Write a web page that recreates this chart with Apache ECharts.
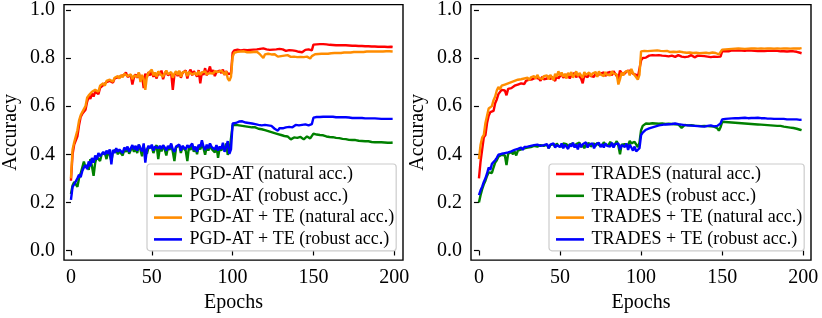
<!DOCTYPE html>
<html>
<head>
<meta charset="utf-8">
<script src="https://cdn.jsdelivr.net/npm/echarts@6/dist/echarts.min.js"></script>
<style>html,body{margin:0;padding:0;background:#fff}#c{width:822px;height:318px}</style>
</head>
<body>
<div id="c"></div>
<script>
const xTicks = [0, 50, 100, 150, 200];
const yTicks = [0.0, 0.2, 0.4, 0.6, 0.8, 1.0];
const leftNames = ['PGD-AT (natural acc.)', 'PGD-AT (robust acc.)', 'PGD-AT + TE (natural acc.)', 'PGD-AT + TE (robust acc.)'];
const rightNames = ['TRADES (natural acc.)', 'TRADES (robust acc.)', 'TRADES + TE (natural acc.)', 'TRADES + TE (robust acc.)'];

const pgdNatural = [
0.290,0.400,0.440,0.432,0.475,0.520,0.555,0.568,0.572,0.585,
0.618,0.640,0.630,0.652,0.640,0.660,0.662,0.650,0.676,0.680,
0.688,0.682,0.700,0.692,0.705,0.712,0.698,0.715,0.708,0.720,
0.712,0.725,0.718,0.730,0.740,0.722,0.715,0.728,0.690,0.720,
0.732,0.718,0.738,0.710,0.725,0.675,0.735,0.720,0.742,0.728,
0.745,0.722,0.735,0.715,0.740,0.730,0.748,0.712,0.735,0.745,
0.728,0.720,0.738,0.668,0.730,0.742,0.725,0.745,0.718,0.738,
0.732,0.748,0.715,0.740,0.752,0.728,0.745,0.735,0.722,0.750,
0.695,0.742,0.730,0.758,0.728,0.745,0.765,0.735,0.750,0.725,
0.742,0.735,0.748,0.738,0.752,0.730,0.745,0.735,0.742,0.735,
0.822,0.832,0.830,0.835,0.838,0.832,0.836,0.834,0.838,0.833,
0.836,0.834,0.838,0.835,0.840,0.836,0.834,0.838,0.835,0.840,
0.842,0.836,0.838,0.834,0.837,0.835,0.832,0.836,0.834,0.838,
0.832,0.836,0.834,0.830,0.835,0.833,0.836,0.832,0.834,0.830,
0.833,0.826,0.828,0.824,0.830,0.834,0.832,0.836,0.830,0.832,
0.856,0.858,0.857,0.859,0.858,0.857,0.858,0.856,0.857,0.856,
0.855,0.856,0.854,0.855,0.853,0.854,0.853,0.852,0.853,0.852,
0.853,0.851,0.852,0.850,0.851,0.850,0.851,0.849,0.850,0.849,
0.850,0.848,0.849,0.848,0.849,0.847,0.848,0.847,0.848,0.846,
0.847,0.846,0.847,0.846,0.847,0.845,0.846,0.846,0.847,0.846];

const pgdRobust = [
0.235,0.270,0.285,0.275,0.265,0.300,0.320,0.345,0.370,0.345,
0.355,0.335,0.380,0.350,0.310,0.365,0.390,0.395,0.372,0.400,
0.395,0.405,0.380,0.410,0.398,0.372,0.412,0.405,0.420,0.400,
0.412,0.405,0.395,0.420,0.410,0.425,0.402,0.418,0.430,0.410,
0.425,0.405,0.440,0.418,0.392,0.432,0.412,0.402,0.428,0.420,
0.432,0.405,0.425,0.438,0.380,0.428,0.412,0.435,0.420,0.395,
0.430,0.418,0.440,0.410,0.372,0.428,0.420,0.438,0.405,0.430,
0.422,0.415,0.372,0.432,0.418,0.440,0.410,0.428,0.400,0.435,
0.420,0.440,0.425,0.398,0.432,0.415,0.440,0.422,0.430,0.408,
0.435,0.385,0.428,0.415,0.432,0.420,0.445,0.398,0.412,0.405,
0.520,0.525,0.522,0.524,0.520,0.522,0.518,0.520,0.516,0.518,
0.514,0.516,0.512,0.510,0.512,0.508,0.506,0.508,0.504,0.502,
0.500,0.498,0.496,0.494,0.492,0.490,0.488,0.486,0.484,0.486,
0.480,0.482,0.476,0.478,0.474,0.470,0.462,0.455,0.470,0.475,
0.468,0.460,0.472,0.476,0.462,0.468,0.474,0.470,0.466,0.472,
0.486,0.484,0.482,0.483,0.480,0.478,0.479,0.476,0.474,0.475,
0.472,0.470,0.471,0.469,0.468,0.466,0.467,0.465,0.464,0.465,
0.463,0.462,0.460,0.461,0.459,0.458,0.459,0.457,0.456,0.457,
0.455,0.456,0.454,0.453,0.454,0.452,0.451,0.452,0.450,0.451,
0.450,0.449,0.450,0.448,0.449,0.447,0.448,0.446,0.448,0.449];

const pgdTeNatural = [
0.300,0.420,0.450,0.455,0.500,0.540,0.562,0.575,0.580,0.600,
0.635,0.645,0.640,0.660,0.655,0.668,0.672,0.660,0.685,0.690,
0.695,0.685,0.705,0.698,0.710,0.715,0.702,0.718,0.712,0.725,
0.715,0.730,0.720,0.735,0.742,0.725,0.722,0.732,0.712,0.728,
0.735,0.722,0.740,0.700,0.730,0.712,0.668,0.725,0.738,0.730,
0.752,0.728,0.740,0.722,0.745,0.735,0.740,0.722,0.738,0.748,
0.732,0.725,0.742,0.718,0.735,0.745,0.730,0.748,0.722,0.740,
0.735,0.745,0.725,0.742,0.748,0.732,0.740,0.738,0.728,0.745,
0.730,0.740,0.735,0.745,0.732,0.740,0.738,0.742,0.735,0.745,
0.738,0.742,0.735,0.748,0.740,0.732,0.745,0.715,0.705,0.722,
0.805,0.822,0.825,0.826,0.824,0.827,0.825,0.828,0.826,0.824,
0.826,0.824,0.827,0.825,0.822,0.826,0.820,0.815,0.808,0.800,
0.815,0.812,0.818,0.810,0.815,0.808,0.816,0.812,0.806,0.812,
0.808,0.814,0.810,0.806,0.812,0.808,0.805,0.810,0.806,0.808,
0.804,0.808,0.805,0.807,0.804,0.808,0.806,0.800,0.798,0.808,
0.815,0.816,0.815,0.817,0.816,0.818,0.817,0.818,0.819,0.818,
0.819,0.820,0.819,0.821,0.820,0.821,0.822,0.821,0.822,0.823,
0.822,0.823,0.824,0.823,0.824,0.825,0.824,0.825,0.826,0.825,
0.826,0.825,0.826,0.827,0.826,0.827,0.826,0.827,0.828,0.827,
0.828,0.827,0.828,0.827,0.828,0.828,0.827,0.828,0.828,0.827];

const pgdTeRobust = [
0.210,0.265,0.275,0.280,0.300,0.315,0.305,0.330,0.345,0.355,
0.338,0.370,0.350,0.385,0.365,0.395,0.378,0.405,0.392,0.400,
0.410,0.398,0.415,0.402,0.420,0.358,0.418,0.405,0.425,0.410,
0.420,0.412,0.405,0.428,0.418,0.432,0.410,0.425,0.438,0.420,
0.435,0.415,0.440,0.425,0.412,0.445,0.365,0.420,0.435,0.425,
0.440,0.415,0.432,0.440,0.425,0.435,0.422,0.438,0.428,0.415,
0.435,0.425,0.445,0.420,0.410,0.432,0.428,0.440,0.415,0.435,
0.430,0.420,0.438,0.428,0.425,0.445,0.418,0.432,0.410,0.440,
0.430,0.458,0.432,0.418,0.440,0.425,0.445,0.430,0.438,0.420,
0.438,0.415,0.432,0.422,0.448,0.410,0.430,0.455,0.402,0.420,
0.528,0.532,0.530,0.534,0.536,0.533,0.537,0.535,0.532,0.534,
0.530,0.526,0.528,0.522,0.525,0.518,0.522,0.515,0.520,0.518,
0.522,0.516,0.520,0.514,0.518,0.510,0.506,0.500,0.498,0.508,
0.512,0.508,0.515,0.512,0.518,0.514,0.520,0.512,0.518,0.522,
0.515,0.520,0.516,0.522,0.518,0.524,0.516,0.520,0.512,0.525,
0.552,0.554,0.555,0.556,0.555,0.557,0.556,0.555,0.556,0.555,
0.556,0.555,0.556,0.555,0.554,0.555,0.554,0.553,0.554,0.553,
0.554,0.552,0.553,0.552,0.551,0.552,0.551,0.550,0.551,0.550,
0.551,0.550,0.549,0.550,0.549,0.548,0.549,0.548,0.549,0.548,
0.548,0.549,0.547,0.548,0.547,0.548,0.547,0.546,0.547,0.547];

const tradesNatural = [
0.300,0.370,0.420,0.470,0.480,0.530,0.560,0.575,0.582,0.580,
0.612,0.628,0.650,0.655,0.668,0.660,0.665,0.645,0.672,0.668,
0.675,0.670,0.685,0.678,0.690,0.685,0.695,0.700,0.692,0.705,
0.700,0.710,0.705,0.712,0.708,0.718,0.710,0.715,0.705,0.722,
0.712,0.720,0.715,0.725,0.712,0.722,0.718,0.705,0.728,0.715,
0.725,0.735,0.718,0.728,0.720,0.732,0.715,0.728,0.722,0.738,
0.720,0.730,0.725,0.715,0.695,0.728,0.732,0.720,0.735,0.725,
0.730,0.722,0.738,0.728,0.720,0.735,0.730,0.740,0.725,0.738,
0.732,0.742,0.728,0.745,0.735,0.740,0.715,0.748,0.738,0.742,
0.735,0.745,0.738,0.748,0.740,0.735,0.742,0.730,0.720,0.728,
0.790,0.800,0.805,0.802,0.806,0.810,0.807,0.812,0.808,0.811,
0.809,0.812,0.808,0.810,0.813,0.809,0.811,0.807,0.812,0.810,
0.808,0.805,0.810,0.812,0.808,0.806,0.810,0.804,0.808,0.806,
0.810,0.812,0.807,0.803,0.808,0.810,0.806,0.809,0.805,0.808,
0.810,0.806,0.808,0.804,0.809,0.806,0.808,0.805,0.807,0.806,
0.828,0.830,0.829,0.831,0.828,0.830,0.832,0.829,0.831,0.830,
0.832,0.829,0.831,0.833,0.830,0.829,0.832,0.830,0.831,0.829,
0.830,0.832,0.829,0.831,0.830,0.832,0.829,0.831,0.830,0.828,
0.830,0.829,0.831,0.828,0.830,0.829,0.828,0.830,0.828,0.829,
0.827,0.829,0.828,0.826,0.828,0.827,0.826,0.825,0.822,0.820];

const tradesRobust = [
0.200,0.230,0.255,0.275,0.290,0.310,0.325,0.330,0.322,0.345,
0.365,0.375,0.390,0.385,0.398,0.405,0.395,0.355,0.402,0.398,
0.410,0.400,0.412,0.395,0.415,0.408,0.420,0.412,0.425,0.418,
0.428,0.420,0.430,0.422,0.435,0.428,0.432,0.425,0.438,0.430,
0.435,0.428,0.440,0.425,0.438,0.430,0.442,0.432,0.445,0.435,
0.440,0.432,0.445,0.438,0.442,0.430,0.440,0.435,0.445,0.432,
0.442,0.435,0.448,0.430,0.440,0.425,0.442,0.438,0.446,0.432,
0.440,0.445,0.435,0.448,0.438,0.442,0.435,0.450,0.440,0.445,
0.438,0.452,0.440,0.448,0.442,0.455,0.435,0.400,0.440,0.448,
0.442,0.450,0.438,0.455,0.445,0.440,0.452,0.445,0.430,0.448,
0.500,0.518,0.525,0.528,0.530,0.527,0.532,0.529,0.531,0.528,
0.530,0.527,0.531,0.528,0.530,0.526,0.529,0.527,0.530,0.526,
0.528,0.525,0.522,0.524,0.520,0.510,0.518,0.522,0.516,0.520,
0.518,0.521,0.516,0.519,0.515,0.518,0.514,0.517,0.515,0.518,
0.514,0.517,0.513,0.516,0.512,0.515,0.511,0.508,0.498,0.512,
0.535,0.536,0.534,0.535,0.533,0.534,0.532,0.533,0.531,0.532,
0.530,0.531,0.529,0.530,0.528,0.529,0.527,0.528,0.526,0.527,
0.525,0.526,0.524,0.525,0.523,0.524,0.522,0.523,0.521,0.522,
0.520,0.521,0.519,0.520,0.518,0.517,0.518,0.516,0.515,0.514,
0.513,0.512,0.511,0.510,0.509,0.507,0.506,0.504,0.502,0.500];

const tradesTeNatural = [
0.380,0.440,0.470,0.480,0.530,0.560,0.590,0.585,0.600,0.625,
0.640,0.665,0.680,0.670,0.685,0.678,0.690,0.682,0.695,0.688,
0.700,0.692,0.705,0.698,0.710,0.702,0.712,0.705,0.715,0.710,
0.718,0.708,0.720,0.712,0.725,0.715,0.730,0.718,0.722,0.712,
0.725,0.718,0.728,0.712,0.730,0.720,0.708,0.735,0.722,0.745,
0.728,0.740,0.722,0.735,0.715,0.738,0.728,0.742,0.718,0.732,
0.745,0.725,0.738,0.728,0.718,0.742,0.730,0.722,0.740,0.725,
0.735,0.728,0.742,0.722,0.745,0.732,0.738,0.725,0.742,0.730,
0.738,0.728,0.745,0.735,0.742,0.732,0.690,0.712,0.740,0.728,
0.742,0.735,0.748,0.728,0.755,0.738,0.742,0.720,0.710,0.730,
0.828,0.832,0.830,0.834,0.829,0.832,0.830,0.828,0.831,0.829,
0.832,0.828,0.830,0.827,0.829,0.826,0.830,0.827,0.825,0.829,
0.826,0.830,0.825,0.823,0.827,0.820,0.824,0.818,0.822,0.819,
0.823,0.817,0.821,0.818,0.822,0.816,0.820,0.817,0.821,0.818,
0.822,0.816,0.820,0.818,0.823,0.817,0.821,0.819,0.815,0.820,
0.835,0.837,0.836,0.838,0.837,0.839,0.838,0.837,0.839,0.838,
0.840,0.838,0.839,0.841,0.838,0.840,0.839,0.841,0.840,0.838,
0.840,0.842,0.839,0.841,0.840,0.842,0.839,0.841,0.840,0.842,
0.840,0.841,0.839,0.842,0.840,0.841,0.839,0.841,0.840,0.842,
0.840,0.841,0.839,0.841,0.840,0.842,0.840,0.841,0.840,0.841];

const tradesTeRobust = [
0.230,0.250,0.265,0.285,0.300,0.320,0.345,0.335,0.360,0.352,
0.375,0.385,0.398,0.392,0.402,0.398,0.405,0.400,0.408,0.402,
0.412,0.405,0.418,0.410,0.422,0.415,0.428,0.418,0.430,0.422,
0.432,0.425,0.435,0.428,0.438,0.430,0.440,0.432,0.435,0.428,
0.438,0.430,0.442,0.425,0.440,0.432,0.445,0.428,0.438,0.442,
0.430,0.445,0.425,0.440,0.435,0.422,0.442,0.432,0.448,0.428,
0.440,0.420,0.445,0.430,0.442,0.435,0.450,0.428,0.440,0.432,
0.445,0.425,0.440,0.435,0.448,0.430,0.442,0.428,0.445,0.435,
0.440,0.432,0.448,0.428,0.442,0.435,0.445,0.420,0.438,0.442,
0.430,0.445,0.418,0.440,0.428,0.415,0.432,0.412,0.420,0.425,
0.480,0.490,0.498,0.502,0.505,0.508,0.510,0.512,0.514,0.516,
0.518,0.520,0.518,0.522,0.520,0.524,0.521,0.525,0.522,0.526,
0.523,0.528,0.522,0.525,0.520,0.523,0.518,0.521,0.517,0.520,
0.516,0.519,0.515,0.518,0.514,0.517,0.513,0.516,0.512,0.515,
0.511,0.518,0.513,0.520,0.512,0.516,0.510,0.518,0.522,0.528,
0.545,0.546,0.547,0.546,0.548,0.547,0.549,0.548,0.550,0.549,
0.550,0.549,0.551,0.550,0.552,0.551,0.550,0.552,0.551,0.550,
0.551,0.550,0.552,0.551,0.550,0.549,0.550,0.549,0.548,0.549,
0.548,0.549,0.547,0.548,0.547,0.546,0.547,0.546,0.547,0.546,
0.545,0.546,0.545,0.544,0.545,0.544,0.545,0.544,0.543,0.544];

const epochs = pgdNatural.map((_, i) => i);
const colors = ['#ff0000', '#008000', '#ff8c00', '#0000ff'];
const FONT = "'Liberation Serif', 'Times New Roman', serif";

function pairs(arr) { return epochs.map((e, i) => [e, arr[i]]); }

function xAxis(gi, min, max) {
  return {
    type: 'value', gridIndex: gi, min: min, max: max,
    name: 'Epochs', nameLocation: 'middle', nameGap: 32,
    nameTextStyle: { fontFamily: FONT, fontSize: 20, color: '#000' },
    axisLine: { show: false },
    splitLine: { show: false },
    axisTick: { show: true, length: 5, inside: false, customValues: xTicks, lineStyle: { color: '#000', width: 1.2 } },
    axisLabel: { customValues: xTicks, margin: 8, fontFamily: FONT, fontSize: 20, color: '#000' }
  };
}
function yAxis(gi) {
  return {
    type: 'value', gridIndex: gi, min: -0.04, max: 1.022,
    name: 'Accuracy', nameLocation: 'middle', nameGap: 43, nameRotate: 90,
    nameTextStyle: { fontFamily: FONT, fontSize: 20, color: '#000' },
    axisLine: { show: false },
    splitLine: { show: false },
    axisTick: { show: true, length: 5, inside: false, customValues: yTicks, lineStyle: { color: '#000', width: 1.2 } },
    axisLabel: { customValues: yTicks, margin: 9, fontFamily: FONT, fontSize: 20, color: '#000',
      formatter: v => Number(v).toFixed(1) }
  };
}
function legend(left, names) {
  return {
    left: left, top: 164, orient: 'vertical',
    data: names, icon: 'rect', itemWidth: 28, itemHeight: 2.6, itemGap: 1.8,
    padding: [0, 2, 1.4, 7],
    borderColor: '#cccccc', borderWidth: 1.2, borderRadius: 3,
    backgroundColor: 'rgba(255,255,255,0.85)',
    selectedMode: false,
    textStyle: { fontFamily: FONT, fontSize: 18, color: '#000', lineHeight: 20, padding: [0, 0, 0, 2.6] }
  };
}
const leftData = [pgdNatural, pgdRobust, pgdTeNatural, pgdTeRobust];
const rightData = [tradesNatural, tradesRobust, tradesTeNatural, tradesTeRobust];
const series = [];
leftData.forEach((arr, k) => series.push({
  type: 'line', name: leftNames[k], xAxisIndex: 0, yAxisIndex: 0, data: pairs(arr),
  showSymbol: false, symbol: 'none', color: colors[k], lineStyle: { width: 2.4, color: colors[k] }, z: 2 + k, animation: false
}));
rightData.forEach((arr, k) => series.push({
  type: 'line', name: rightNames[k], xAxisIndex: 1, yAxisIndex: 1, data: pairs(arr),
  showSymbol: false, symbol: 'none', color: colors[k], lineStyle: { width: 2.4, color: colors[k] }, z: 2 + k, animation: false
}));

const chart = echarts.init(document.getElementById('c'), null, { renderer: 'canvas' });
chart.setOption({
  animation: false,
  backgroundColor: '#fff',
  grid: [
    { left: 63, top: 3, width: 340, height: 260, show: true, borderColor: '#000', borderWidth: 1.4, backgroundColor: 'transparent' },
    { left: 471, top: 3, width: 340, height: 260, show: true, borderColor: '#000', borderWidth: 1.4, backgroundColor: 'transparent' }
  ],
  xAxis: [xAxis(0, -4.3, 205.4), xAxis(1, -4.9, 204.8)],
  yAxis: [yAxis(0), yAxis(1)],
  legend: [legend(147, leftNames), legend(549, rightNames)],
  series: series
});
</script>
</body>
</html>
